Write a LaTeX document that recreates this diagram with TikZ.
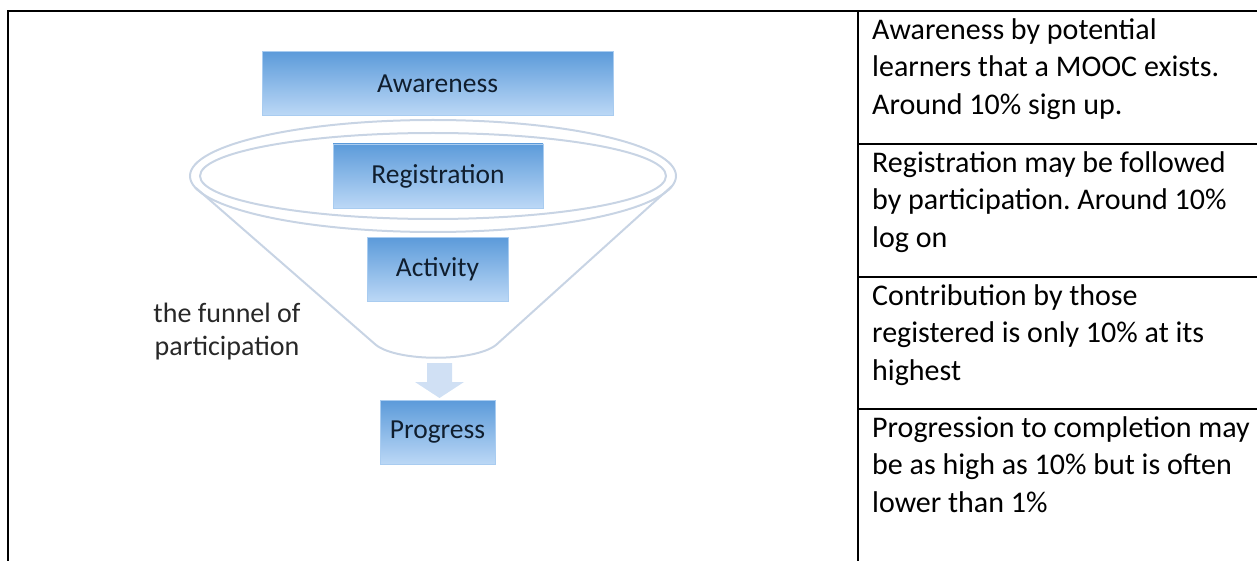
\documentclass[tikz,border=0pt]{standalone}
\usepackage{fontspec}
\setmainfont{Carlito}
\usepackage{tikz}
\frenchspacing
\definecolor{boxtop}{RGB}{92,155,218}
\definecolor{boxbot}{RGB}{188,216,246}
\definecolor{rimcol}{RGB}{200,212,228}
\definecolor{boxtext}{RGB}{16,30,46}
\definecolor{arrowfill}{RGB}{208,224,244}
\definecolor{labeltext}{RGB}{40,40,40}
\tikzset{
  stage/.style={rectangle, top color=boxtop, bottom color=boxbot,
    draw=boxbot!80!boxtop, line width=0.6pt, minimum height=64pt,
    text=boxtext, font=\fontsize{27.5}{30}\selectfont, inner sep=0pt},
  rim/.style={draw=rimcol, line width=2pt},
  note/.style={anchor=north west, align=left, inner sep=0pt,
    font=\fontsize{30}{37.5}\selectfont},
  rule/.style={line width=1.4pt}
}

\begin{document}
\begin{tikzpicture}[x=1pt,y=1pt]
\useasboundingbox (0,0) rectangle (1257,-561);

% funnel
\draw[rim] (433,-176) ellipse [x radius=243, y radius=56];
\draw[rim] (433,-176) ellipse [x radius=233, y radius=43];
\draw[rim] (196,-188) -- (376,-345)
  .. controls (398,-362) and (474,-362) .. (496,-345) -- (672,-186);

\node[stage, minimum width=351pt] (awareness) at (437.5,-83.5) {Awareness};
\node[stage, minimum width=210pt] (registration) at (438,-176) {Registration};
\node[stage, minimum width=141pt] (activity) at (437.5,-269.5) {Activity};
\node[stage, minimum width=115pt] (progress) at (437.5,-432.5) {Progress};

\fill[arrowfill] (427,-363) -- (452,-363) -- (452,-382) -- (464,-382)
  -- (439.5,-398) -- (415,-382) -- (427,-382) -- cycle;

\node[font=\fontsize{28}{33}\selectfont, text=labeltext, align=center,
  anchor=north, inner sep=0pt] (funnellabel) at (227,-303)
  {the funnel of\\participation};

% table rules
\draw[rule] (8,-561) -- (8,-11) -- (1257,-11);
\draw[rule] (858,-11) -- (858,-561);
\foreach \y in {144,277,409}
  \draw[rule] (858,-\y) -- (1257,-\y);

\node[note] (awarenote) at (872,-18)
  {Awareness by potential\\learners that a MOOC exists.\\Around 10\% sign up.};
\node[note] (registnote) at (872,-151)
  {Registration may be followed\\by participation. Around 10\%\\log on};
\node[note] (contribnote) at (872,-284)
  {Contribution by those\\registered is only 10\% at its\\highest};
\node[note] (progressnote) at (872,-416)
  {Progression to completion may\\be as high as 10\% but is often\\lower than 1\%};
\end{tikzpicture}
\end{document}
